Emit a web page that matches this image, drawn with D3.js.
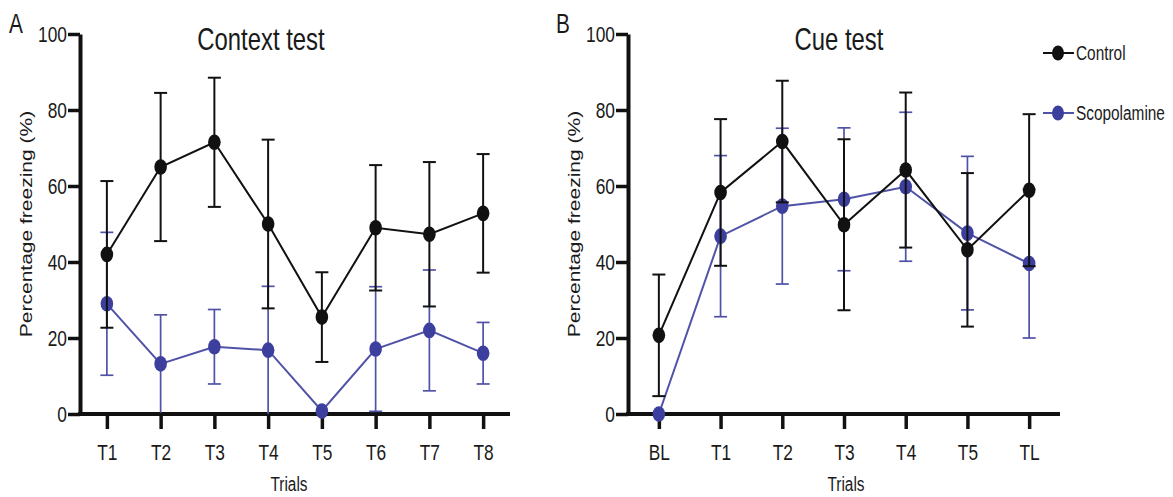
<!DOCTYPE html>
<html>
<head>
<meta charset="utf-8">
<script src="https://cdn.jsdelivr.net/npm/d3@7"></script>
<style>
  body { margin: 0; background: #fff; }
  text { font-family: "Liberation Sans", Arial, sans-serif; fill: #1a1a1a; }
</style>
</head>
<body>
<div id="chart"></div>
<script>
/* Fear conditioning: context test and cue test */

// data (mean and error bar half-length)
const contextTrials = ["T1", "T2", "T3", "T4", "T5", "T6", "T7", "T8"];
const contextControlMean = [42, 65, 71.5, 50, 25.5, 49, 47.3, 52.8];
const contextControlErr  = [19.3, 19.5, 17, 22.2, 11.8, 16.5, 19, 15.6];
const contextScopMean    = [29, 13.2, 17.7, 16.8, 0.8, 17.1, 22, 16];
const contextScopErr     = [18.8, 12.9, 9.8, 16.8, 0, 16.4, 15.9, 8.1];

const cueTrials = ["BL", "T1", "T2", "T3", "T4", "T5", "TL"];
const cueControlMean = [20.7, 58.3, 71.7, 49.8, 64.2, 43.2, 58.9];
const cueControlErr  = [16, 19.3, 16, 22.5, 20.4, 20.2, 20];
const cueScopMean    = [0, 46.8, 54.7, 56.5, 59.8, 47.6, 39.6];
const cueScopErr     = [0, 21.2, 20.5, 18.8, 19.6, 20.2, 19.6];

const yTicks = [0, 20, 40, 60, 80, 100];
const seriesNames = ["Control", "Scopolamine"];

const W = 1173, H = 497;
const SX = 0.77; // glyphs in the figure are narrow
const black = "#111", blue = "#3d3f9e", blueLine = "#5052a8";

const svg = d3.select("#chart").append("svg")
  .attr("width", W).attr("height", H);

// y scale shared by both panels
const y = d3.scaleLinear().domain([0, 100]).range([414, 34]);

function narrowText(parent, x, yy, str, size, anchor, rot) {
  return parent.append("text")
    .attr("transform", "translate(" + x + "," + yy + ") scale(" + SX + ",1)" + (rot ? " rotate(" + rot + ")" : ""))
    .attr("text-anchor", anchor || "start")
    .style("font-size", size + "px")
    .text(str);
}

function drawPanel(opt) {
  const g = svg.append("g");
  const x = d3.scalePoint().domain(opt.cats).range([opt.left, opt.right]).padding(0.5);

  // y axis
  const yAx = g.append("g")
    .attr("transform", "translate(" + opt.left + ",0)")
    .call(d3.axisLeft(y).tickValues(yTicks).tickSize(12).tickSizeOuter(0));
  yAx.select(".domain").attr("stroke-width", 4).attr("stroke", black);
  yAx.selectAll(".tick line").attr("stroke-width", 3.5).attr("stroke", black);
  yAx.selectAll(".tick text")
    .attr("x", null).attr("dy", "0.35em")
    .attr("transform", "translate(-13,0) scale(" + SX + ",1)")
    .style("font-size", "22.5px")
    .attr("font-family", null);

  // x axis
  const xAx = g.append("g")
    .attr("transform", "translate(0," + y(0) + ")")
    .call(d3.axisBottom(x).tickSize(15).tickSizeOuter(0));
  xAx.select(".domain").attr("stroke-width", 4).attr("stroke", black)
    .attr("d", "M" + (opt.left - 2) + ",0H" + opt.right);
  xAx.selectAll(".tick line").attr("stroke-width", 3.5).attr("stroke", black);
  xAx.selectAll(".tick text")
    .attr("y", 46).attr("dy", null)
    .attr("transform", "scale(" + SX + ",1)")
    .style("font-size", "22.5px")
    .attr("font-family", null);

  // series: scopolamine first, control on top
  const series = [
    {mean: opt.scopMean, err: opt.scopErr, col: blue, lineCol: blueLine, barW: 1.7},
    {mean: opt.ctrlMean, err: opt.ctrlErr, col: black, lineCol: black, barW: 2}
  ];
  series.forEach(function(s) {
    const pts = opt.cats.map(function(c, i) { return {c: c, m: s.mean[i], e: s.err[i]}; });
    const bars = g.append("g").attr("stroke", s.lineCol).attr("stroke-width", s.barW).attr("fill", "none");
    pts.filter(function(d) { return d.e > 0; }).forEach(function(d) {
      const lo = Math.max(0, d.m - d.e), hi = d.m + d.e;
      const cx = x(d.c);
      bars.append("line").attr("x1", cx).attr("x2", cx).attr("y1", y(lo)).attr("y2", y(hi));
      bars.append("line").attr("x1", cx - 6.5).attr("x2", cx + 6.5).attr("y1", y(hi)).attr("y2", y(hi));
      if (lo > 0.5) bars.append("line").attr("x1", cx - 6.5).attr("x2", cx + 6.5).attr("y1", y(lo)).attr("y2", y(lo));
    });
    g.append("path")
      .attr("fill", "none").attr("stroke", s.lineCol).attr("stroke-width", 2)
      .attr("d", d3.line().x(function(d) { return x(d.c); }).y(function(d) { return y(d.m); })(pts));
    g.selectAll(null).data(pts).enter().append("ellipse")
      .attr("cx", function(d) { return x(d.c); })
      .attr("cy", function(d) { return y(d.m); })
      .attr("rx", 6.3).attr("ry", 7.8)
      .attr("fill", s.col);
  });

  // labels
  narrowText(g, opt.left + opt.titleDx, 50, opt.title, 31, "middle");
  narrowText(g, (opt.left + opt.right) / 2 + opt.trialsDx, 491, "Trials", 20, "middle");
  narrowText(g, opt.left - 48, (y(0) + y(100)) / 2, "Percentage freezing (%)", 21, "middle", -90);
  narrowText(g, opt.letterX, 33, opt.letter, 27, "start");
}

drawPanel({
  cats: contextTrials, left: 80, right: 510,
  ctrlMean: contextControlMean, ctrlErr: contextControlErr,
  scopMean: contextScopMean, scopErr: contextScopErr,
  title: "Context test", titleDx: 181, trialsDx: -6,
  letter: "A", letterX: 9
});

drawPanel({
  cats: cueTrials, left: 628, right: 1060,
  ctrlMean: cueControlMean, ctrlErr: cueControlErr,
  scopMean: cueScopMean, scopErr: cueScopErr,
  title: "Cue test", titleDx: 211, trialsDx: 2,
  letter: "B", letterX: 556
});

// legend
const legend = svg.append("g");
const legendCols = [black, blue];
const legendLineCols = [black, blueLine];
seriesNames.forEach(function(name, i) {
  const ly = 53 + i * 60;
  legend.append("line").attr("x1", 1043).attr("x2", 1074).attr("y1", ly).attr("y2", ly)
    .attr("stroke", legendLineCols[i]).attr("stroke-width", 2);
  legend.append("ellipse").attr("cx", 1058).attr("cy", ly).attr("rx", 6).attr("ry", 7.5)
    .attr("fill", legendCols[i]);
  narrowText(legend, 1076, ly + 7, name, 20, "start");
});
</script>
</body>
</html>
